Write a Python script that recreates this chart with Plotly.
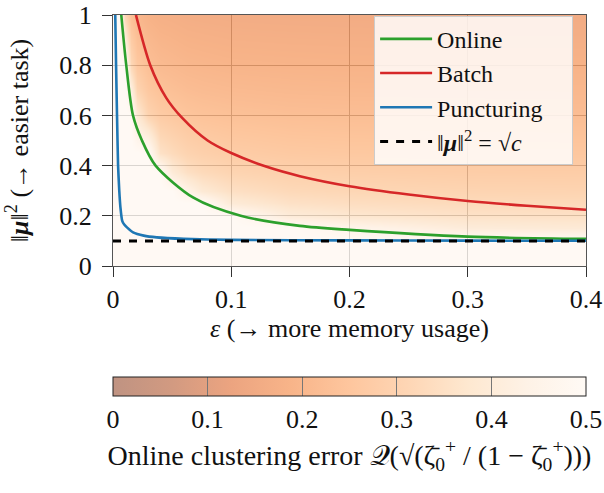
import plotly.graph_objects as go

# ---- data -------------------------------------------------------------
# curves: memory budget eps vs. signal strength ||mu||^2
online_eps = [0.0070, 0.0112, 0.0169, 0.0245, 0.036, 0.068, 0.108, 0.158, 0.2, 0.3, 0.4]
online_mu = [1.0, 0.8, 0.6, 0.5, 0.40, 0.272, 0.2, 0.16, 0.144, 0.117, 0.108]

batch_eps = [0.0194, 0.0315, 0.045, 0.0585, 0.08, 0.1, 0.13, 0.158, 0.2, 0.25, 0.3, 0.35, 0.4]
batch_mu = [1.0, 0.8, 0.67, 0.59, 0.5, 0.45, 0.395, 0.358, 0.318, 0.285, 0.259, 0.24, 0.224]

punct_eps = [0.0019, 0.0026, 0.0034, 0.0043, 0.0053, 0.0063, 0.0078, 0.0095, 0.0118,
             0.017, 0.026, 0.037, 0.06, 0.1, 0.2, 0.3, 0.4]
punct_mu = [1.0, 0.8, 0.6, 0.4, 0.3, 0.233, 0.18, 0.165, 0.154,
            0.134, 0.121, 0.114, 0.108, 0.104, 0.102, 0.101, 0.1005]

sqrt_c_eps = [0.0, 0.4]
sqrt_c_mu = [0.1, 0.1]

# online clustering error on an (eps, ||mu||^2) grid
grid_eps = [0.0, 0.005, 0.01, 0.015, 0.02, 0.03, 0.04, 0.05, 0.0625, 0.075, 0.1, 0.15, 0.2, 0.3, 0.4]
grid_mu = [0.0, 0.1, 0.15, 0.2, 0.25, 0.3, 0.375, 0.45, 0.6, 0.7, 0.8, 1.0]
err = [
    [0.5] * 15,
    [0.5] * 15,
    [0.5] * 12 + [0.457, 0.404, 0.394],
    [0.5] * 11 + [0.402, 0.378, 0.358, 0.353],
    [0.5] * 10 + [0.397, 0.354, 0.341, 0.329, 0.326],
    [0.5] * 8 + [0.444, 0.390, 0.350, 0.324, 0.315, 0.307, 0.305],
    [0.5] * 7 + [0.398, 0.349, 0.328, 0.307, 0.292, 0.286, 0.280, 0.279],
    [0.5] * 6 + [0.355, 0.330, 0.304, 0.291, 0.277, 0.266, 0.262, 0.258, 0.257],
    [0.5] * 4 + [0.390, 0.304, 0.273, 0.262, 0.249, 0.242, 0.235, 0.228, 0.226, 0.224, 0.223],
    [0.5] * 3 + [0.421, 0.308, 0.261, 0.240, 0.232, 0.223, 0.218, 0.213, 0.208, 0.206, 0.205, 0.204],
    [0.5] * 3 + [0.319, 0.261, 0.230, 0.215, 0.209, 0.202, 0.199, 0.194, 0.191, 0.189, 0.188, 0.188],
    [0.5] * 2 + [0.311, 0.232, 0.204, 0.186, 0.177, 0.174, 0.169, 0.167, 0.164, 0.162, 0.161, 0.160, 0.160],
]

x_ticks = [0, 0.1, 0.2, 0.3, 0.4]
x_labels = ["0", "0.1", "0.2", "0.3", "0.4"]
y_ticks = [0, 0.2, 0.4, 0.6, 0.8, 1]
y_labels = ["0", "0.2", "0.4", "0.6", "0.8", "1"]
cbar_ticks = [0, 0.1, 0.2, 0.3, 0.4, 0.5]

# ---- style ------------------------------------------------------------
FONT = "Liberation Serif"
FS = 26
TXT = "#111"
NBSP = "\u00a0"
oranges = [(255, 245, 235), (254, 230, 206), (253, 208, 162), (253, 174, 107),
           (253, 141, 60), (241, 105, 19), (217, 72, 1), (166, 54, 3), (127, 39, 4)]
oranges_r = oranges[::-1]
n = len(oranges_r) - 1
heat_scale = [[i / n, "rgb(%d,%d,%d)" % c] for i, c in enumerate(oranges_r)]
ALPHA = 0.5
bar_scale = [[i / n, "rgb(%d,%d,%d)" % tuple(round(ALPHA * v + (1 - ALPHA) * 255) for v in c)]
             for i, c in enumerate(oranges_r)]

fig = go.Figure()

fig.add_trace(go.Heatmap(
    x=grid_eps, y=grid_mu, z=err, zmin=0, zmax=0.5, zsmooth="best",
    colorscale=heat_scale, opacity=ALPHA, showscale=False, hoverinfo="skip",
))

# colour bar carrier (semi-transparent look baked into the scale)
fig.add_trace(go.Scatter(
    x=[None], y=[None], mode="markers", showlegend=False, hoverinfo="skip",
    marker=dict(color=[0.25], cmin=0, cmax=0.5, colorscale=bar_scale, showscale=True,
                colorbar=dict(
                    orientation="h", x=0.5, xanchor="center", y=-0.443, yanchor="top",
                    len=1, lenmode="fraction", thickness=19, xpad=0, ypad=0,
                    outlinecolor="#222", outlinewidth=1,
                    tickvals=cbar_ticks, ticks="inside", ticklen=19, tickcolor="#777",
                    tickwidth=1, tickfont=dict(family=FONT, size=FS, color=TXT),
                    title=dict(
                        text="Online clustering error 𝒬(√(ζ̄<sub>0</sub><sup>+</sup> / (1 − ζ̄<sub>0</sub><sup>+</sup>)))",
                        side="bottom", font=dict(family=FONT, size=28, color=TXT)),
                )),
))

fig.add_trace(go.Scatter(x=online_eps, y=online_mu, mode="lines", name="Online",
                         line=dict(color="#2ca02c", width=2.6, shape="spline", smoothing=0.8),
                         legendgroup="a"))
fig.add_trace(go.Scatter(x=batch_eps, y=batch_mu, mode="lines", name="Batch",
                         line=dict(color="#d62728", width=2.6, shape="spline", smoothing=0.8),
                         legendgroup="b"))
fig.add_trace(go.Scatter(x=punct_eps, y=punct_mu, mode="lines", name="Puncturing" + NBSP * 4,
                         line=dict(color="#1f77b4", width=2.6, shape="spline", smoothing=0.5),
                         legendgroup="c"))
fig.add_trace(go.Scatter(x=sqrt_c_eps, y=sqrt_c_mu, mode="lines",
                         name="‖<b><i>μ</i></b>‖<sup>2</sup> = √<i>c</i>",
                         line=dict(color="black", width=3, dash="8px,8px"),
                         legendgroup="d"))

axis_common = dict(
    showline=True, linecolor="#555", linewidth=1, mirror=True, automargin=False,
    showgrid=True, gridcolor="#b5b5b5", gridwidth=1, zeroline=False,
    ticks="outside", ticklen=10, tickcolor="#333", tickwidth=1,
    ticklabeloverflow="allow",
    tickfont=dict(family=FONT, size=FS, color=TXT),
)

fig.update_xaxes(range=[0, 0.4], tickvals=x_ticks, ticktext=x_labels,
                 title=dict(text="<i>ε</i> (→ more memory usage)",
                            font=dict(family=FONT, size=FS, color=TXT), standoff=4),
                 **axis_common)
fig.update_yaxes(range=[0, 1], tickvals=y_ticks, ticktext=y_labels, ticklabelstandoff=5,
                 title=dict(text="‖<b><i>μ</i></b>‖<sup>2</sup> (→ easier task)",
                            font=dict(family=FONT, size=FS, color=TXT), standoff=23),
                 **axis_common)

fig.update_layout(
    template="none",
    width=604, height=493,
    margin=dict(l=113, r=18, t=15, b=227, pad=0),
    paper_bgcolor="white", plot_bgcolor="white",
    font=dict(family=FONT, size=FS, color=TXT),
    legend=dict(x=0.552, y=0.997, xanchor="left", yanchor="top",
                bgcolor="rgba(255,255,255,0.82)", bordercolor="#cccccc", borderwidth=1,
                font=dict(family=FONT, size=24, color=TXT), tracegroupgap=0,
                itemwidth=52),
    showlegend=True,
)

fig.write_html("out.html")
